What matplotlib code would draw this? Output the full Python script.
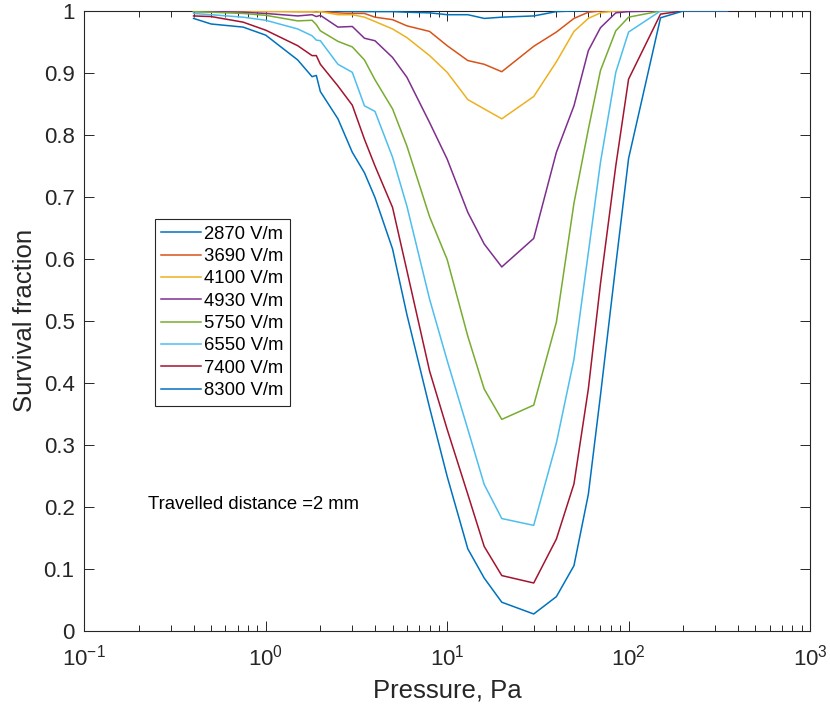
import numpy as np
import matplotlib
matplotlib.use('Agg')
import matplotlib.pyplot as plt
from matplotlib import rcParams

rcParams['font.family'] = ['Liberation Sans', 'DejaVu Sans']
rcParams['mathtext.fontset'] = 'custom'
rcParams['mathtext.rm'] = 'Liberation Sans'
rcParams['mathtext.it'] = 'Liberation Sans:italic'
rcParams['mathtext.bf'] = 'Liberation Sans:bold'

# pressure points, Pa
pressure = [0.4, 0.5, 0.75, 1, 1.5, 1.8, 1.9, 2, 2.5, 3, 3.5, 4, 5, 6, 8,
            10, 13, 16, 20, 30, 40, 50, 60, 70, 85, 100, 150, 200, 350]

# survival fraction for each field strength
s2870 = [1.0, 1.0, 1.0, 1.0, 1.0, 1.0, 1.0, 1.0, 1.0, 0.999, 0.999, 0.999, 0.999, 0.998, 0.997,
         0.994, 0.994, 0.988, 0.990, 0.992, 0.999, 1.0, 1.0, 1.0, 1.0, 1.0, 1.0, 1.0, 1.0]
s3690 = [1.0, 1.0, 1.0, 1.0, 0.999, 0.999, 0.998, 0.999, 0.997, 0.996, 0.996, 0.990, 0.986, 0.976, 0.967,
         0.944, 0.920, 0.914, 0.902, 0.943, 0.966, 0.988, 0.998, 1.0, 1.0, 1.0, 1.0, 1.0, 1.0]
s4100 = [1.0, 1.0, 1.0, 0.999, 0.999, 0.999, 0.998, 0.999, 0.994, 0.994, 0.990, 0.983, 0.971, 0.957, 0.928,
         0.901, 0.857, 0.842, 0.826, 0.862, 0.918, 0.967, 0.988, 0.997, 1.0, 1.0, 1.0, 1.0, 1.0]
s4930 = [0.999, 0.999, 0.998, 0.996, 0.992, 0.994, 0.991, 0.993, 0.974, 0.975, 0.956, 0.952, 0.925, 0.893, 0.820,
         0.761, 0.675, 0.624, 0.587, 0.633, 0.772, 0.847, 0.936, 0.973, 0.997, 0.999, 1.0, 1.0, 1.0]
s5750 = [0.999, 0.998, 0.996, 0.993, 0.984, 0.985, 0.978, 0.968, 0.951, 0.942, 0.921, 0.889, 0.842, 0.782, 0.668,
         0.599, 0.475, 0.390, 0.341, 0.364, 0.498, 0.690, 0.809, 0.904, 0.968, 0.990, 1.0, 1.0, 1.0]
s6550 = [0.996, 0.994, 0.990, 0.985, 0.971, 0.960, 0.953, 0.952, 0.914, 0.901, 0.847, 0.838, 0.764, 0.685, 0.535,
         0.436, 0.325, 0.236, 0.181, 0.170, 0.303, 0.438, 0.610, 0.756, 0.901, 0.966, 1.0, 1.0, 1.0]
s7400 = [0.992, 0.991, 0.982, 0.969, 0.944, 0.928, 0.928, 0.914, 0.879, 0.848, 0.793, 0.750, 0.683, 0.581, 0.419,
         0.325, 0.220, 0.136, 0.089, 0.077, 0.148, 0.237, 0.390, 0.560, 0.750, 0.890, 0.995, 1.0, 1.0]
s8300 = [0.988, 0.979, 0.974, 0.961, 0.921, 0.894, 0.896, 0.870, 0.826, 0.772, 0.739, 0.699, 0.616, 0.510, 0.360,
         0.249, 0.132, 0.085, 0.046, 0.027, 0.055, 0.105, 0.220, 0.380, 0.590, 0.762, 0.989, 1.0, 1.0]

labels = ['2870 V/m', '3690 V/m', '4100 V/m', '4930 V/m',
          '5750 V/m', '6550 V/m', '7400 V/m', '8300 V/m']
series = [s2870, s3690, s4100, s4930, s5750, s6550, s7400, s8300]
colors = ['#0072BD', '#D95319', '#EDB120', '#7E2F8E',
          '#77AC30', '#4DBEEE', '#A2142F', '#0072BD']

fig = plt.figure(figsize=(8.3, 7.13), dpi=100)
ax = fig.add_axes([0.1016, 0.1154, 0.8743, 0.8692])

for s, lab, c in zip(series, labels, colors):
    ax.plot(pressure, s, color=c, lw=1.1, label=lab, zorder=3)

ax.set_xscale('log')
ax.set_xlim(0.1, 1000)
ax.set_ylim(0, 1)
ax.set_yticks(np.arange(0, 1.01, 0.1))
ax.set_yticklabels(['0', '0.1', '0.2', '0.3', '0.4', '0.5', '0.6', '0.7', '0.8', '0.9', '1'])

axcol = '#262626'
for sp in ax.spines.values():
    sp.set_color(axcol)
    sp.set_linewidth(0.8)
ax.tick_params(which='both', direction='in', top=True, right=True, colors=axcol,
               labelsize=16, width=0.7)
ax.tick_params(which='major', length=7, pad=7)
ax.tick_params(axis='x', which='major', pad=10)
ax.tick_params(which='minor', length=4)

ax.set_xlabel('Pressure, Pa', fontsize=18.5, color=axcol, labelpad=6)
ax.set_ylabel('Survival fraction', fontsize=18.5, color=axcol, labelpad=5)

leg = ax.legend(loc='upper left', bbox_to_anchor=(0.097, 0.664), borderaxespad=0,
                fontsize=13.3, fancybox=False, framealpha=1, edgecolor=axcol,
                handlelength=2.15, handletextpad=0.18, labelspacing=0.29,
                borderpad=0.35)
leg.get_frame().set_linewidth(0.8)

ax.text(0.088, 0.203, 'Travelled distance =2 mm', transform=ax.transAxes,
        fontsize=13.3, color='black', va='center')

plt.savefig('out.png', dpi=100)
